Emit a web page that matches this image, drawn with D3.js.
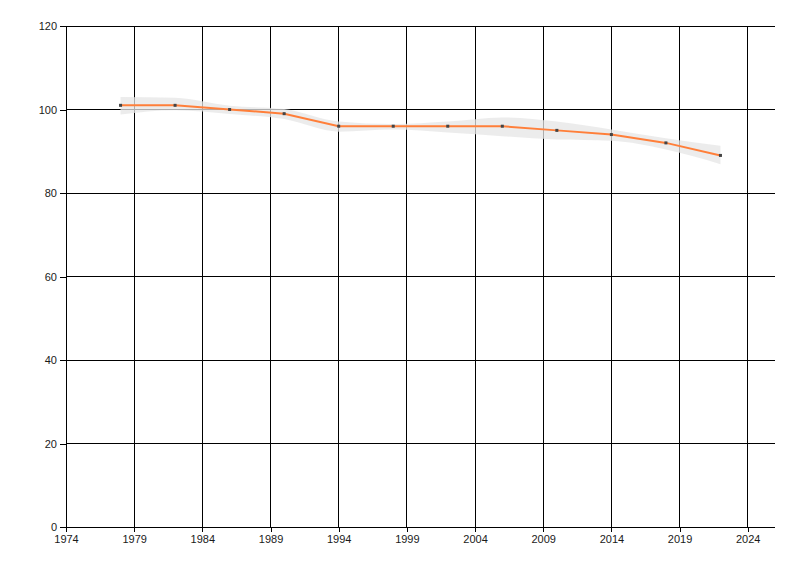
<!DOCTYPE html>
<html>
<head>
<meta charset="utf-8">
<script src="https://cdn.jsdelivr.net/npm/d3@7"></script>
<style>
  body { margin: 0; background: #fff; }
  svg text { font-family: "Liberation Sans", "DejaVu Sans", sans-serif; font-size: 11px; fill: #1a1a1a; }
</style>
</head>
<body>
<div id="chart"></div>
<script>
// datos
var years = [1978, 1982, 1986, 1990, 1994, 1998, 2002, 2006, 2010, 2014, 2018, 2022];
var values = [101, 101, 100, 99, 96, 96, 96, 96, 95, 94, 92, 89];
var upper = [103, 102.8, 100.9, 100.1, 97.1, 96.5, 97.1, 98.1, 97.1, 95.2, 93.1, 91.3];
var lower = [98.8, 99.8, 98.9, 97.7, 94.7, 95.2, 94.5, 93.6, 92.8, 92.5, 90.4, 86.9];
var xTicks = [1974, 1979, 1984, 1989, 1994, 1999, 2004, 2009, 2014, 2019, 2024];
var yTicks = [0, 20, 40, 60, 80, 100, 120];

var svg_w = 800, svg_h = 576;
var m_left = 66, m_right = 775, m_top = 26, m_bottom = 527;

var svg = d3.select("#chart").append("svg")
  .attr("width", svg_w)
  .attr("height", svg_h);

var x = d3.scaleLinear().domain([1974, 2026]).range([m_left, m_right]);
var y = d3.scaleLinear().domain([0, 120]).range([m_bottom, m_top]);

// rejilla
var grid = svg.append("g").attr("stroke", "#000").attr("stroke-width", 1).attr("shape-rendering", "crispEdges");
grid.selectAll(".hg").data(yTicks).enter().append("line")
  .attr("x1", m_left).attr("x2", m_right)
  .attr("y1", function(d) { return y(d); }).attr("y2", function(d) { return y(d); });
grid.selectAll(".vg").data(xTicks).enter().append("line")
  .attr("y1", m_top).attr("y2", m_bottom)
  .attr("x1", function(d) { return x(d); }).attr("x2", function(d) { return x(d); });

// banda
var band = d3.area()
  .x(function(d, i) { return x(years[i]); })
  .y0(function(d, i) { return y(lower[i]); })
  .y1(function(d, i) { return y(upper[i]); })
  .curve(d3.curveMonotoneX);
svg.append("path")
  .datum(values)
  .attr("d", band)
  .attr("fill", "#e6e6e6")
  .attr("fill-opacity", 0.75);

// linea
var line = d3.line()
  .x(function(d, i) { return x(years[i]); })
  .y(function(d) { return y(d); });
svg.append("path")
  .datum(values)
  .attr("d", line)
  .attr("fill", "none")
  .attr("stroke", "#ff7f3a")
  .attr("stroke-width", 2);

// marcadores
svg.selectAll(".pt").data(values).enter().append("rect")
  .attr("x", function(d, i) { return x(years[i]) - 1.5; })
  .attr("y", function(d) { return y(d) - 1.5; })
  .attr("width", 3).attr("height", 3)
  .attr("fill", "#444");

// ejes
var xAxis = d3.axisBottom(x).tickValues(xTicks).tickFormat(d3.format("d")).tickSize(5).tickPadding(3);
var yAxis = d3.axisLeft(y).tickValues(yTicks).tickSize(6).tickPadding(3);

var gx = svg.append("g").attr("transform", "translate(0," + m_bottom + ")").call(xAxis);
var gy = svg.append("g").attr("transform", "translate(" + m_left + ",0)").call(yAxis);
[gx, gy].forEach(function(g) {
  g.select(".domain").remove();
  g.selectAll("line").attr("stroke", "#000").attr("shape-rendering", "crispEdges");
  g.selectAll("text").attr("font-family", null).attr("font-size", null);
});
gx.append("line").attr("x1", m_left).attr("x2", m_right).attr("stroke", "#000").attr("shape-rendering", "crispEdges");
gy.append("line").attr("y1", m_top).attr("y2", m_bottom).attr("stroke", "#000").attr("shape-rendering", "crispEdges");
</script>
</body>
</html>
